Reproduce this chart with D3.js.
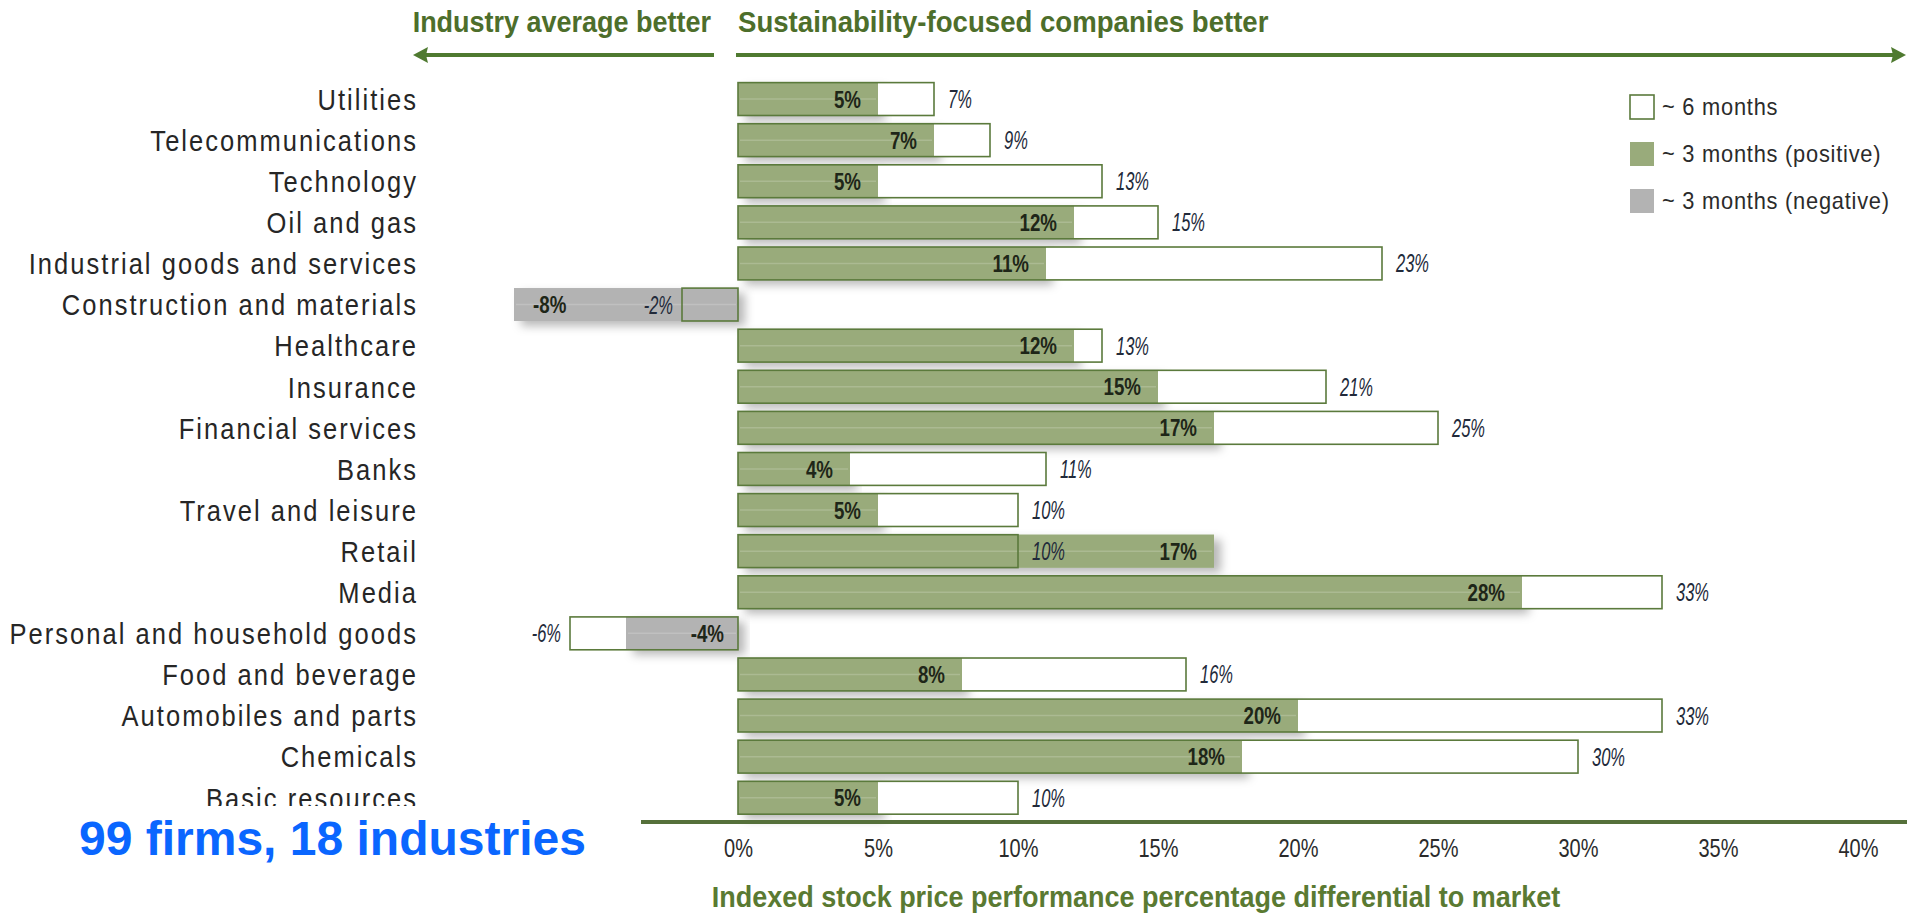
<!DOCTYPE html>
<html>
<head>
<meta charset="utf-8">
<script src="https://cdn.jsdelivr.net/npm/d3@7"></script>
<style>
  body { margin: 0; background: #fff; }
  svg { display: block; }
  text { font-family: "Liberation Sans", Arial, sans-serif; }
</style>
</head>
<body>
<div id="app"></div>
<script>
// industries, top to bottom
const categories = [
  'Utilities', 'Telecommunications', 'Technology', 'Oil and gas',
  'Industrial goods and services', 'Construction and materials', 'Healthcare',
  'Insurance', 'Financial services', 'Banks', 'Travel and leisure', 'Retail',
  'Media', 'Personal and household goods', 'Food and beverage',
  'Automobiles and parts', 'Chemicals', 'Basic resources'
];
// ~6 months (outlined box)
const sixMonths = [7, 9, 13, 15, 23, -2, 13, 21, 25, 11, 10, 10, 33, -6, 16, 33, 30, 10];
// ~3 months (filled bar, green if positive, gray if negative)
const threeMonths = [5, 7, 5, 12, 11, -8, 12, 15, 17, 4, 5, 17, 28, -4, 8, 20, 18, 5];
const tickValues = [0, 5, 10, 15, 20, 25, 30, 35, 40];
const legendItems = ['~ 6 months', '~ 3 months (positive)', '~ 3 months (negative)'];

const width = 1907;
const height = 915;
const green = '#99ab7b';
const gray = '#b3b3b3';
const outline = '#5b7a3c';
const arrowGreen = '#4f7a30';

// no narrow font installed, so squeeze text horizontally
function condensed(sel, xFn, yFn, sx) {
  sel.attr('x', 0).attr('y', 0)
    .attr('transform', (d, i) => `translate(${xFn(d, i)},${yFn(d, i)}) scale(${sx},1)`);
}

const svg = d3.select('#app')
  .append('svg')
  .attr('width', width)
  .attr('height', height);

const defs = svg.append('defs');
const shadow = defs.append('filter')
  .attr('id', 'shadow')
  .attr('x', '-5%').attr('y', '-40%')
  .attr('width', '115%').attr('height', '200%');
shadow.append('feDropShadow')
  .attr('dx', 7).attr('dy', 5)
  .attr('stdDeviation', 5)
  .attr('flood-color', '#000')
  .attr('flood-opacity', 0.28);

defs.append('clipPath').attr('id', 'label-clip')
  .append('rect').attr('x', 0).attr('y', 0).attr('width', 460).attr('height', 806);

// scales
const x = d3.scaleLinear().domain([0, 40]).range([738, 1858]);
const y = d3.scaleBand()
  .domain(categories)
  .range([78.5, 78.5 + 18 * 41.1])
  .paddingInner(0.2)
  .paddingOuter(0.1);

const rows = categories.map((c, i) => ({cat: c, six: sixMonths[i], three: threeMonths[i]}));

// header arrows
const header = svg.append('g').attr('id', 'header');
header.append('line')
  .attr('x1', 424).attr('x2', 714).attr('y1', 55).attr('y2', 55)
  .style('stroke', arrowGreen).style('stroke-width', 4);
header.append('path')
  .attr('d', 'M413,55 L428,47 L426,55 L428,63 Z')
  .style('fill', arrowGreen);
header.append('line')
  .attr('x1', 736).attr('x2', 1895).attr('y1', 55).attr('y2', 55)
  .style('stroke', arrowGreen).style('stroke-width', 4);
header.append('path')
  .attr('d', 'M1906,55 L1891,47 L1893,55 L1891,63 Z')
  .style('fill', arrowGreen);

header.append('text')
  .attr('text-anchor', 'end')
  .style('font-size', '30px').style('font-weight', 'bold')
  .style('fill', '#4d6e2b')
  .text('Industry average better')
  .call(condensed, () => 711, () => 32, 0.9);
header.append('text')
  .style('font-size', '30px').style('font-weight', 'bold')
  .style('fill', '#4d6e2b')
  .text('Sustainability-focused companies better')
  .call(condensed, () => 738, () => 32, 0.92);

// category labels
svg.append('g')
  .attr('id', 'labels')
  .attr('clip-path', 'url(#label-clip)')
  .selectAll('text')
  .data(rows)
  .join('text')
  .attr('dy', '0.36em')
  .attr('text-anchor', 'end')
  .style('font-size', '30px')
  .style('letter-spacing', '2.4px')
  .style('fill', '#262626')
  .text(d => d.cat)
  .call(condensed, () => 418, d => y(d.cat) + y.bandwidth() / 2, 0.85);

// bars
const bars = svg.append('g').attr('id', 'bars');
const bh = y.bandwidth();

// filled ~3 month bars with shadow
bars.selectAll('rect.three')
  .data(rows)
  .join('rect')
  .attr('class', 'three')
  .attr('x', d => x(Math.min(0, d.three)))
  .attr('y', d => y(d.cat))
  .attr('width', d => Math.abs(x(d.three) - x(0)))
  .attr('height', bh)
  .attr('filter', 'url(#shadow)')
  .style('fill', d => d.three < 0 ? gray : green);

// white inside of the ~6 month boxes
bars.selectAll('rect.six-bg')
  .data(rows)
  .join('rect')
  .attr('class', 'six-bg')
  .attr('x', d => x(Math.min(0, d.six)))
  .attr('y', d => y(d.cat))
  .attr('width', d => Math.abs(x(d.six) - x(0)))
  .attr('height', bh)
  .style('fill', '#fff');

// 3 month fill again on top of the white box
bars.selectAll('rect.three-top')
  .data(rows)
  .join('rect')
  .attr('class', 'three-top')
  .attr('x', d => x(Math.min(0, d.three)))
  .attr('y', d => y(d.cat))
  .attr('width', d => Math.abs(x(d.three) - x(0)))
  .attr('height', bh)
  .style('fill', d => d.three < 0 ? gray : green);

// faint highlight line through the middle of each filled bar
bars.selectAll('line.hl')
  .data(rows)
  .join('line')
  .attr('class', 'hl')
  .attr('x1', d => x(Math.min(0, d.three)) + 2)
  .attr('x2', d => x(Math.max(0, d.three)) - 2)
  .attr('y1', d => y(d.cat) + bh / 2)
  .attr('y2', d => y(d.cat) + bh / 2)
  .style('stroke', '#fff')
  .style('stroke-opacity', 0.18)
  .style('stroke-width', 1.5);

bars.selectAll('rect.six')
  .data(rows)
  .join('rect')
  .attr('class', 'six')
  .attr('x', d => x(Math.min(0, d.six)))
  .attr('y', d => y(d.cat))
  .attr('width', d => Math.abs(x(d.six) - x(0)))
  .attr('height', bh)
  .style('fill', 'none')
  .style('stroke', outline)
  .style('stroke-width', 1.6);

// value labels
const fmt = v => `${v}%`;
const vlabels = svg.append('g').attr('id', 'value-labels');
const midY = d => y(d.cat) + bh / 2;

// ~3 month labels (bold)
vlabels.selectAll('text.l3')
  .data(rows)
  .join('text')
  .attr('class', 'l3')
  .attr('text-anchor', d => (d.three < 0 && d.three < d.six) ? 'start' : 'end')
  .attr('dy', '0.36em')
  .style('font-size', '24px').style('font-weight', 'bold')
  .style('fill', '#1e2618')
  .text(d => fmt(d.three))
  .call(condensed, d => {
    if (d.three < 0 && d.three < d.six) return x(d.three) + 19;
    if (d.three < 0) return x(0) - 14;
    return x(d.three) - 17;
  }, midY, 0.78);

// ~6 month labels (italic)
vlabels.selectAll('text.l6')
  .data(rows)
  .join('text')
  .attr('class', 'l6')
  .attr('text-anchor', d => d.six < 0 ? 'end' : 'start')
  .attr('dy', '0.36em')
  .style('font-size', '25px').style('font-style', 'italic')
  .style('fill', '#222a3a')
  .text(d => fmt(d.six))
  .call(condensed, d => d.six < 0 ? x(d.six) - 9 : x(d.six) + 14, midY, 0.66);

// x axis
svg.append('line')
  .attr('x1', 641).attr('x2', 1907).attr('y1', 822).attr('y2', 822)
  .style('stroke', '#55703a').style('stroke-width', 4);

const axis = svg.append('g')
  .attr('transform', 'translate(0, 836)')
  .call(d3.axisBottom(x).tickValues(tickValues).tickSize(0).tickFormat(fmt));
axis.select('.domain').remove();
axis.selectAll('.tick text')
  .style('font-family', '"Liberation Sans", Arial, sans-serif')
  .style('font-size', '25px')
  .style('fill', '#2b2b2b')
  .attr('transform', 'scale(0.8,1)')
  .attr('x', 0);

svg.append('text')
  .attr('text-anchor', 'middle')
  .style('font-size', '30px').style('font-weight', 'bold')
  .style('fill', '#5a7a32')
  .text('Indexed stock price performance percentage differential to market')
  .call(condensed, () => 1136, () => 907, 0.9);

// legend
const legend = svg.append('g')
  .attr('id', 'legend')
  .attr('transform', 'translate(1630, 95)');
const legendFill = ['#fff', green, gray];
legend.selectAll('rect')
  .data(legendItems)
  .join('rect')
  .attr('x', 0)
  .attr('y', (d, i) => i * 47)
  .attr('width', 24).attr('height', 24)
  .style('fill', (d, i) => legendFill[i])
  .style('stroke', (d, i) => i === 0 ? outline : 'none')
  .style('stroke-width', 1.6);
legend.selectAll('text')
  .data(legendItems)
  .join('text')
  .attr('dy', '0.36em')
  .style('font-size', '23px')
  .style('letter-spacing', '0.8px')
  .style('fill', '#2b2b2b')
  .text(d => d)
  .call(condensed, () => 32, (d, i) => i * 47 + 12, 0.95);

// note
svg.append('text')
  .attr('x', 79).attr('y', 855)
  .style('font-size', '48px').style('font-weight', 'bold')
  .style('fill', '#0a66ff')
  .text('99 firms, 18 industries');
</script>
</body>
</html>
